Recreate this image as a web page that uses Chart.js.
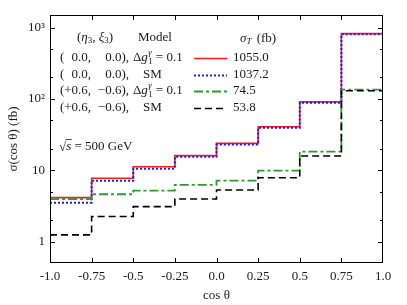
<!DOCTYPE html>
<html>
<head>
<meta charset="utf-8">
<script src="https://cdn.jsdelivr.net/npm/chart.js@4.4.1/dist/chart.umd.min.js"></script>
<style>
  html, body { margin: 0; padding: 0; background: #fff; }
  canvas { display: block; }
</style>
</head>
<body>
<canvas id="xsec" width="407" height="305"></canvas>
<script>
// bin edges in cos(theta)
const binEdges = [-1, -0.75, -0.5, -0.25, 0, 0.25, 0.5, 0.75, 1];

// sigma(cos theta) per bin, fb
const dg1Unpol = [4.12, 7.7, 11.2, 16.0, 23.8, 40.6, 90.8, 822];
const smUnpol = [3.51, 7.13, 10.5, 15.4, 22.9, 39.5, 88.5, 803];
const dg1Pol = [3.92, 4.6, 5.17, 6.21, 7.13, 9.84, 18.2, 135];
const smPol = [1.24, 2.24, 3.09, 3.95, 5.28, 7.85, 15.8, 130];

const sigmaT = ['1055.0', '1037.2', '74.5', '53.8'];
const etaXi = [['0.0,', '0.0),'], ['0.0,', '0.0),'], ['+0.6,', '\u22120.6),'], ['+0.6,', '\u22120.6),']];
const models = ['dg', 'SM', 'dg', 'SM'];

const yMajor = [1, 10, 100, 1000];
const yMajorLabels = ['1', '10', '10\u00b2', '10\u00b3'];
const yMinor = [2, 5, 20, 50, 200, 500];

const FONT = '"Liberation Serif", "Times New Roman", serif';
const ink = '#1a1a1a';

function steps(vals) {
    return binEdges.map((x, i) => ({ x, y: vals[Math.min(i, vals.length - 1)] }));
}

const styles = [
    { color: '#ff1a1a', dash: [], width: 1.6 },
    { color: '#1a1aff', dash: [2, 2], width: 2 },
    { color: '#2f9a2f', dash: [9, 3, 3, 3], width: 1.8 },
    { color: '#000000', dash: [7, 4], width: 1.6 }
];
const series = [dg1Unpol, smUnpol, dg1Pol, smPol];

function txt(ctx, s, x, y, size = 13, italic = false, align = 'left') {
    ctx.font = `${italic ? 'italic ' : ''}${size}px ${FONT}`;
    ctx.textAlign = align;
    ctx.fillText(s, x, y);
    return x + ctx.measureText(s).width;
}

const frame = {
    id: 'frame',
    afterDatasetsDraw(chart) {
        const { ctx, chartArea: a, scales } = chart;
        const xs = scales.x, ys = scales.y;
        ctx.save();
        ctx.strokeStyle = '#000';
        ctx.lineWidth = 1;
        ctx.setLineDash([]);
        ctx.strokeRect(Math.round(a.left) + 0.5, Math.round(a.top) + 0.5,
            Math.round(a.right - a.left) - 1, Math.round(a.bottom - a.top) - 1);
        ctx.beginPath();
        xs.ticks.forEach(t => {
            const px = Math.round(xs.getPixelForValue(t.value)) + 0.5;
            if (px <= a.left + 1 || px >= a.right - 1) return;
            ctx.moveTo(px, a.bottom); ctx.lineTo(px, a.bottom - 5);
            ctx.moveTo(px, a.top); ctx.lineTo(px, a.top + 5);
        });
        yMajor.forEach(v => {
            const py = Math.round(ys.getPixelForValue(v)) + 0.5;
            ctx.moveTo(a.left, py); ctx.lineTo(a.left + 5, py);
            ctx.moveTo(a.right, py); ctx.lineTo(a.right - 5, py);
        });
        yMinor.forEach(v => {
            const py = Math.round(ys.getPixelForValue(v)) + 0.5;
            ctx.moveTo(a.left, py); ctx.lineTo(a.left + 3, py);
            ctx.moveTo(a.right, py); ctx.lineTo(a.right - 3, py);
        });
        ctx.stroke();

        // key table
        ctx.fillStyle = ink;
        ctx.textBaseline = 'middle';
        let x = txt(ctx, '(', 77, 38);
        x = txt(ctx, '\u03b7', x, 38, 13, true);
        x = txt(ctx, '3', x, 41, 9);
        x = txt(ctx, ', ', x, 38);
        x = txt(ctx, '\u03be', x, 38, 13, true);
        x = txt(ctx, '3', x, 41, 9);
        txt(ctx, ')', x, 38);
        txt(ctx, 'Model', 138, 38);
        x = txt(ctx, '\u03c3', 240, 39, 13, true);
        x = txt(ctx, 'T', x, 42, 9, true);
        txt(ctx, ' (fb)', x + 2, 39);

        const rowY = [58, 75, 91, 108];
        rowY.forEach((y, i) => {
            txt(ctx, '(', 60, y);
            txt(ctx, etaXi[i][0], 91, y, 13, false, 'right');
            txt(ctx, etaXi[i][1], 129, y, 13, false, 'right');
            if (models[i] === 'SM') {
                txt(ctx, 'SM', 143, y);
            } else {
                let gx = txt(ctx, '\u0394', 133, y);
                gx = txt(ctx, 'g', gx, y, 13, true);
                const e1 = txt(ctx, '\u03b3', gx + 0.5, y - 5, 9, true);
                const e2 = txt(ctx, '1', gx + 0.5, y + 4, 9);
                txt(ctx, '= 0.1', Math.max(e1, e2) + 3, y);
            }
            const st = styles[i];
            ctx.save();
            ctx.strokeStyle = st.color;
            ctx.lineWidth = st.width;
            ctx.setLineDash(st.dash);
            ctx.beginPath();
            ctx.moveTo(194, y + 0.5);
            ctx.lineTo(227, y + 0.5);
            ctx.stroke();
            ctx.restore();
            ctx.fillStyle = ink;
            txt(ctx, sigmaT[i], 233, y);
        });

        // sqrt(s) note
        const sy = 147;
        let sx = txt(ctx, '\u221a', 59, sy + 1);
        const se = txt(ctx, 's', sx, sy, 13, true);
        ctx.strokeStyle = ink;
        ctx.lineWidth = 0.8;
        ctx.beginPath();
        ctx.moveTo(sx - 0.5, sy - 7.5);
        ctx.lineTo(se + 0.5, sy - 7.5);
        ctx.stroke();
        txt(ctx, ' = 500 GeV', se, sy);
        ctx.restore();
    }
};

new Chart(document.getElementById('xsec'), {
    type: 'line',
    data: {
        datasets: series.map((vals, i) => ({
            data: steps(vals),
            borderColor: styles[i].color,
            borderDash: styles[i].dash,
            borderWidth: styles[i].width,
            stepped: true,
            pointRadius: 0,
            fill: false,
            order: 4 - i
        }))
    },
    options: {
        responsive: false,
        animation: false,
        events: [],
        layout: { padding: { top: 15, right: 24, left: 0, bottom: 0 } },
        plugins: { legend: { display: false }, tooltip: { enabled: false } },
        scales: {
            x: {
                type: 'linear',
                min: -1,
                max: 1,
                grid: { display: false, drawTicks: false },
                border: { display: false },
                ticks: {
                    stepSize: 0.25,
                    padding: 6,
                    color: ink,
                    maxRotation: 0,
                    autoSkip: false,
                    font: { family: FONT, size: 13 },
                    callback: v => (Number.isInteger(v) ? v.toFixed(1) : String(v))
                },
                title: {
                    display: true,
                    text: 'cos \u03b8',
                    color: ink,
                    font: { family: FONT, size: 13 },
                    padding: { top: 0, bottom: 2 }
                },
                afterFit: s => { s.height = 42; }
            },
            y: {
                type: 'logarithmic',
                min: 0.5,
                max: 1500,
                grid: { display: false, drawTicks: false },
                border: { display: false },
                afterBuildTicks: s => { s.ticks = yMajor.map(v => ({ value: v, major: true })); },
                ticks: {
                    padding: 5,
                    color: ink,
                    font: { family: FONT, size: 13 },
                    callback: v => yMajorLabels[yMajor.indexOf(v)]
                },
                title: {
                    display: true,
                    text: '\u03c3(cos \u03b8) (fb)',
                    color: ink,
                    font: { family: FONT, size: 13 },
                    padding: { top: 6, bottom: 0 }
                },
                afterFit: s => { s.width = 50; }
            }
        }
    },
    plugins: [frame]
});
</script>
</body>
</html>
